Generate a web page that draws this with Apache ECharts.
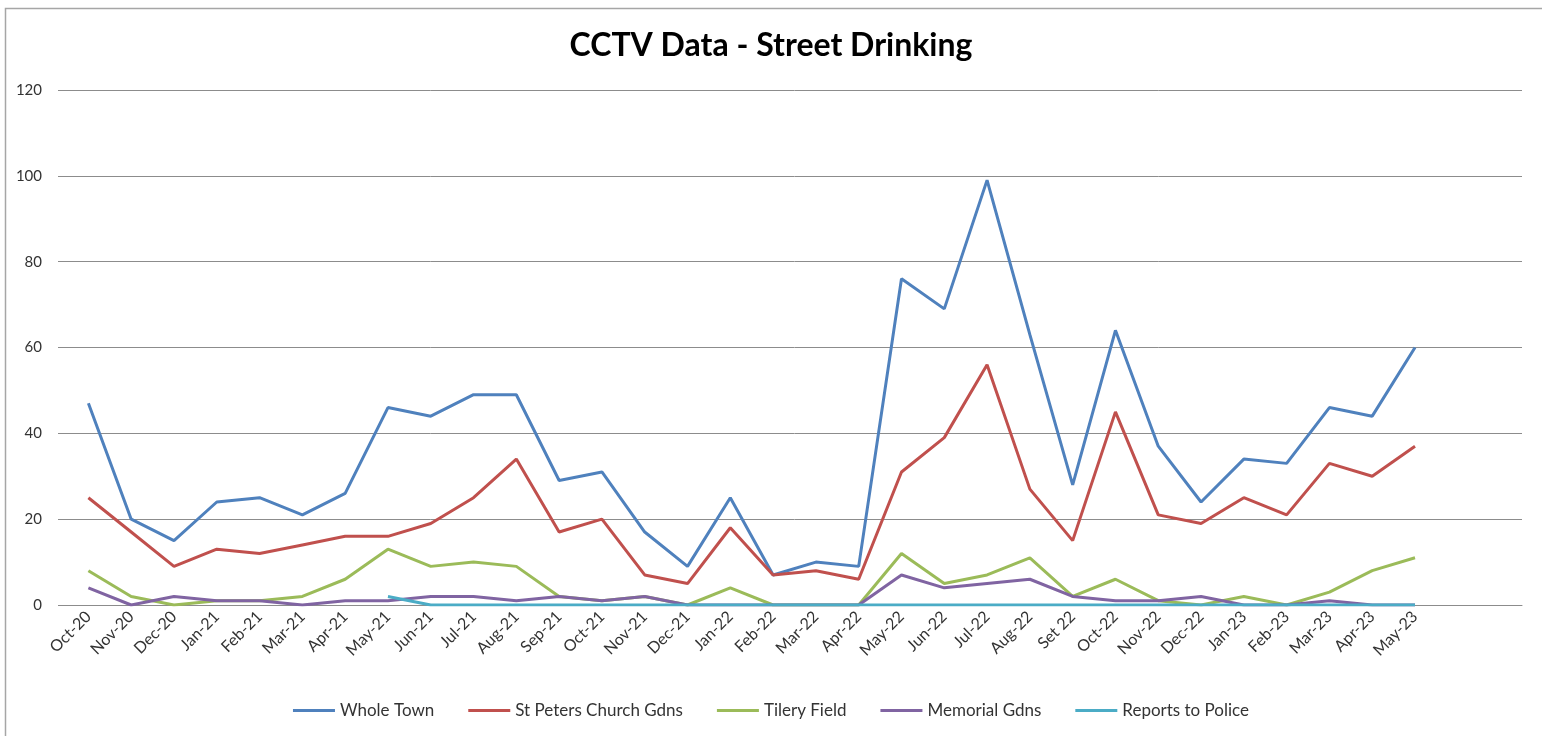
<!DOCTYPE html>
<html>
<head>
<meta charset="utf-8">
<title>CCTV Data - Street Drinking</title>
<script src="https://cdn.jsdelivr.net/npm/echarts@6/dist/echarts.min.js"></script>
<style>
  html, body { margin: 0; padding: 0; background: #fff; }
  #chartContainer { width: 1542px; height: 736px; }
</style>
</head>
<body>
<div id="chartContainer"></div>
<script>
// months as labelled on the sheet (note "Set 22" spelling kept)
const categories = [
  'Oct-20', 'Nov-20', 'Dec-20', 'Jan-21', 'Feb-21', 'Mar-21', 'Apr-21', 'May-21',
  'Jun-21', 'Jul-21', 'Aug-21', 'Sep-21', 'Oct-21', 'Nov-21', 'Dec-21', 'Jan-22',
  'Feb-22', 'Mar-22', 'Apr-22', 'May-22', 'Jun-22', 'Jul-22', 'Aug-22', 'Set 22',
  'Oct-22', 'Nov-22', 'Dec-22', 'Jan-23', 'Feb-23', 'Mar-23', 'Apr-23', 'May-23'
];
// two empty slots at the end of the category axis, like the source sheet
const emptySlots = ['', ''];

const wholeTown = [47, 20, 15, 24, 25, 21, 26, 46, 44, 49, 49, 29, 31, 17, 9, 25,
  7, 10, 9, 76, 69, 99, 63, 28, 64, 37, 24, 34, 33, 46, 44, 60];
const stPeters = [25, 17, 9, 13, 12, 14, 16, 16, 19, 25, 34, 17, 20, 7, 5, 18,
  7, 8, 6, 31, 39, 56, 27, 15, 45, 21, 19, 25, 21, 33, 30, 37];
const tileryField = [8, 2, 0, 1, 1, 2, 6, 13, 9, 10, 9, 2, 1, 2, 0, 4,
  0, 0, 0, 12, 5, 7, 11, 2, 6, 1, 0, 2, 0, 3, 8, 11];
const memorialGdns = [4, 0, 2, 1, 1, 0, 1, 1, 2, 2, 1, 2, 1, 2, 0, 0,
  0, 0, 0, 7, 4, 5, 6, 2, 1, 1, 2, 0, 0, 1, 0, 0];
const reportsToPolice = [null, null, null, null, null, null, null, 2, 0, 0, 0, 0, 0, 0, 0, 0,
  0, 0, 0, 0, 0, 0, 0, 0, 0, 0, 0, 0, 0, 0, 0, 0];

const yTicks = [0, 20, 40, 60, 80, 100, 120];

const seriesNames = ['Whole Town', 'St Peters Church Gdns', 'Tilery Field', 'Memorial Gdns', 'Reports to Police'];
const seriesColors = ['#4F81BD', '#C0504D', '#9BBB59', '#8064A2', '#4BACC6'];
const seriesData = [wholeTown, stPeters, tileryField, memorialGdns, reportsToPolice];

const chartDom = document.getElementById('chartContainer');
const myChart = echarts.init(chartDom);

const font = 'Lato, "Open Sans", sans-serif';

const option = {
  animation: false,
  title: {
    text: 'CCTV Data - Street Drinking',
    left: 'center',
    top: 25,
    textStyle: {
      fontFamily: font,
      fontWeight: 'bold',
      fontSize: 32,
      color: '#000',
    },
  },
  legend: {
    top: 697,
    left: 'center',
    icon: 'rect',
    itemWidth: 42,
    itemHeight: 3,
    itemGap: 34,
    textStyle: {
      fontFamily: font,
      fontSize: 17,
      color: '#333',
    },
  },
  grid: {
    left: 67,
    right: 20,
    top: 90,
    bottom: 131,
  },
  xAxis: {
    type: 'category',
    data: categories.concat(emptySlots),
    boundaryGap: true,
    axisLine: { show: true, lineStyle: { color: '#8c8c8c', width: 1 } },
    axisTick: { show: false },
    axisLabel: {
      interval: 0,
      rotate: 45,
      margin: 9,
      fontFamily: font,
      fontSize: 16,
      color: '#333',
    },
  },
  yAxis: {
    type: 'value',
    min: yTicks[0],
    max: yTicks[yTicks.length - 1],
    interval: yTicks[1] - yTicks[0],
    axisLine: { show: false },
    axisTick: { show: true, length: 9, lineStyle: { color: '#8c8c8c' } },
    splitLine: { lineStyle: { color: '#8c8c8c', width: 1 } },
    axisLabel: {
      margin: 25,
      fontFamily: font,
      fontSize: 15,
      color: '#333',
    },
  },
  graphic: [
    {
      type: 'polyline',
      shape: { points: [[5.5, 736], [5.5, 8.5], [1542, 8.5]] },
      style: { stroke: '#a6a6a6', lineWidth: 1.5, fill: null },
      silent: true,
    },
  ],
  series: seriesNames.map((name, i) => ({
    name: name,
    type: 'line',
    data: seriesData[i],
    symbol: 'none',
    showSymbol: false,
    connectNulls: false,
    itemStyle: { color: seriesColors[i] },
    lineStyle: { color: seriesColors[i], width: 3 },
  })),
};

myChart.setOption(option);

window.addEventListener('resize', () => myChart.resize());
</script>
</body>
</html>
